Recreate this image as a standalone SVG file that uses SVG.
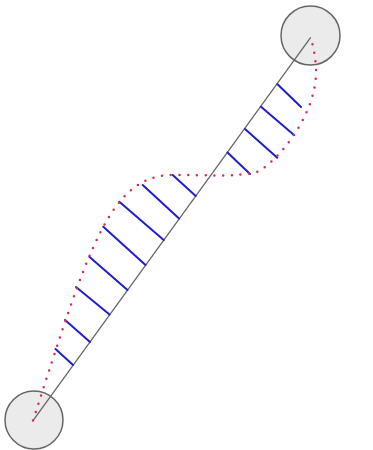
<svg xmlns="http://www.w3.org/2000/svg" width="373" height="450" viewBox="0 0 373 450">
<style>
.node{fill:#ebebeb;stroke:#666;stroke-width:1.5}
.bar{stroke:#666;stroke-width:1.3;fill:none}
.hatch{stroke:#1f1fcc;stroke-width:2;fill:none;stroke-linecap:round}
.curve{stroke:#d3304e;stroke-width:2.5;fill:none;stroke-dasharray:0 8.7;stroke-linecap:round}
</style>
<rect width="373" height="450" fill="#fff"/>
<g id="node-bottom"><circle class="node" cx="34" cy="420" r="29"/></g>
<g id="node-top"><circle class="node" cx="310.5" cy="35.5" r="29.5"/></g>
<g id="connectors">
<line class="bar" x1="33" y1="420.7" x2="310.7" y2="37.3"/>
<g id="hatching">
<line class="hatch" x1="55.5" y1="349" x2="73" y2="365"/>
<line class="hatch" x1="65" y1="320" x2="90" y2="342"/>
<line class="hatch" x1="76" y1="287" x2="109.5" y2="314.5"/>
<line class="hatch" x1="89.3" y1="256.7" x2="127.5" y2="290"/>
<line class="hatch" x1="103.3" y1="226.7" x2="145.5" y2="265"/>
<line class="hatch" x1="119.3" y1="201.7" x2="163.7" y2="240"/>
<line class="hatch" x1="142.7" y1="185" x2="179" y2="218.5"/>
<line class="hatch" x1="172.7" y1="175" x2="195.7" y2="196"/>
<line class="hatch" x1="227.5" y1="152.5" x2="250" y2="174"/>
<line class="hatch" x1="245" y1="129" x2="277.3" y2="157.7"/>
<line class="hatch" x1="261" y1="106.7" x2="294" y2="135"/>
<line class="hatch" x1="277.5" y1="84.3" x2="301" y2="107"/>
</g>
<path class="curve" d="M33,420.5 C88,250 109,175 173,175 C205,175 235,177 255,172.5 C270,169 316,120 316,72 C316,58 313,46 311,38"/>
</g>
</svg>
